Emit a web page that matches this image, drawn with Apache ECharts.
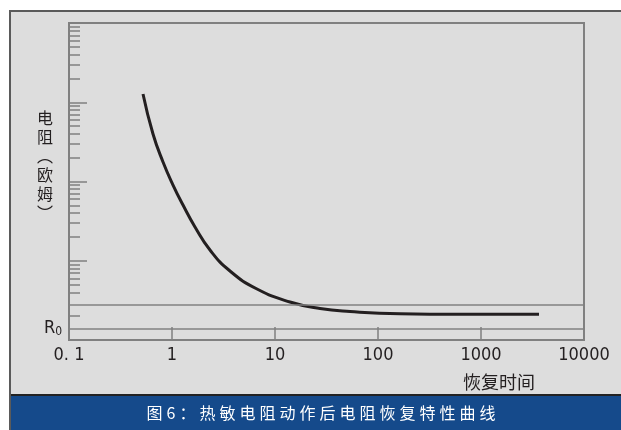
<!DOCTYPE html>
<html>
<head>
<meta charset="utf-8">
<script src="https://cdn.jsdelivr.net/npm/echarts@6/dist/echarts.min.js"></script>
<style>html,body{margin:0;padding:0;background:#fff}#c{width:621px;height:430px}</style>
</head>
<body>
<div id="c"></div>
<script>
// ---- data ----
const timeValues = [0.523, 0.654, 0.818, 1.023, 1.279, 1.672, 2.338, 3.657, 6.69, 13.98, 27.35, 53.5, 163.6, 625, 3656];
const resistanceValues = [1271, 397.6, 176.2, 90.3, 50.5, 26.7, 13.66, 7.42, 4.40, 3.017, 2.497, 2.289, 2.141, 2.110, 2.110];
const xTickLabels = ['0. 1', '1', '10', '100', '1000', '10000'];
const yMinorTicks = [2, 4, 5, 6, 7, 8, 9, 20, 30, 40, 50, 60, 70, 80, 90, 200, 300, 400, 500, 600, 700, 800, 900, 2000, 3000, 4000, 5000, 6000, 7000, 8000, 9000];
const yMajorTicks = [10, 100, 1000];
const refLineValue = 2.8;
const r0Value = 1.4;
const yAxisName = '电\n阻\n︵\n欧\n姆\n︶';
const xAxisName = '恢复时间';
const titleText = '图6：热敏电阻动作后电阻恢复特性曲线';

const chart = echarts.init(document.getElementById('c'), null, {renderer: 'canvas'});
const gray = '#808080';
const ink = '#231f20';
const points = timeValues.map((t, i) => [t, resistanceValues[i]]);
const spacedTitle = titleText.split('').join('\u2005');

chart.setOption({
  backgroundColor: '#dddddd',
  animation: false,
  grid: {left: 69, right: 37, top: 23, bottom: 90, show: true, borderColor: gray, borderWidth: 2, backgroundColor: 'transparent'},
  xAxis: {
    type: 'log', logBase: 10, min: 0.1, max: 10000,
    axisLine: {show: true, lineStyle: {color: gray, width: 2}},
    axisTick: {show: true, inside: true, length: 13, lineStyle: {color: gray, width: 1.5}},
    axisLabel: {
      color: ink, fontSize: 18, fontFamily: 'DejaVu Sans Condensed', margin: 6,
      formatter: (v, i) => xTickLabels[i] !== undefined ? xTickLabels[i] : String(v)
    },
    splitLine: {show: false}
  },
  yAxis: [{
    type: 'log', logBase: 10, min: 1, max: 10000,
    axisLine: {show: true, lineStyle: {color: gray, width: 2}},
    axisTick: {show: true, inside: true, length: 11, customValues: yMinorTicks, lineStyle: {color: gray, width: 1.5}},
    axisLabel: {
      show: true, customValues: [r0Value], margin: 7,
      formatter: () => '{a|R}{b|0}',
      rich: {
        a: {fontSize: 18, fontFamily: 'DejaVu Sans Condensed', color: ink},
        b: {fontSize: 12, fontFamily: 'DejaVu Sans Condensed', color: ink, verticalAlign: 'bottom', padding: [6, 0, 0, 0]}
      }
    },
    splitLine: {show: false}
  }, {
    type: 'log', logBase: 10, min: 1, max: 10000, position: 'left',
    axisLine: {show: false},
    axisTick: {show: true, inside: true, length: 18, customValues: yMajorTicks, lineStyle: {color: gray, width: 1.5}},
    axisLabel: {show: false},
    splitLine: {show: false}
  }],
  series: [{
    type: 'line', xAxisIndex: 0, yAxisIndex: 0,
    data: points, smooth: 0.5, showSymbol: false, symbol: 'none',
    lineStyle: {color: ink, width: 3},
    markLine: {
      silent: true, symbol: 'none', label: {show: false},
      lineStyle: {color: gray, width: 1.5, type: 'solid'},
      data: [{yAxis: refLineValue}, {yAxis: r0Value}]
    }
  }],
  graphic: [
    {type: 'rect', shape: {x: 0, y: 0, width: 621, height: 10}, style: {fill: '#ffffff'}, z: 100},
    {type: 'rect', shape: {x: 0, y: 0, width: 9, height: 430}, style: {fill: '#ffffff'}, z: 100},
    {type: 'rect', shape: {x: 9, y: 10, width: 612, height: 2}, style: {fill: '#5a5a5a'}, z: 101},
    {type: 'rect', shape: {x: 9, y: 10, width: 2, height: 420}, style: {fill: '#5a5a5a'}, z: 101},
    {type: 'rect', shape: {x: 11, y: 396, width: 610, height: 34}, style: {fill: '#154a8b'}, z: 100},
    {type: 'rect', shape: {x: 11, y: 394, width: 610, height: 2}, style: {fill: '#222222'}, z: 100},
    {type: 'text', x: 321, y: 413, z: 102, style: {text: spacedTitle, fill: '#ffffff', font: '16px "Noto Sans CJK SC"', textAlign: 'center', textVerticalAlign: 'middle'}},
    {type: 'text', x: 45, y: 108, z: 102, style: {text: yAxisName, fill: ink, font: '16px "Noto Sans CJK SC"', textAlign: 'center', lineHeight: 19}},
    {type: 'text', x: 535, y: 382, z: 102, style: {text: xAxisName, fill: ink, font: '18px "Noto Sans CJK SC"', textAlign: 'right', textVerticalAlign: 'middle'}}
  ]
});
</script>
</body>
</html>
